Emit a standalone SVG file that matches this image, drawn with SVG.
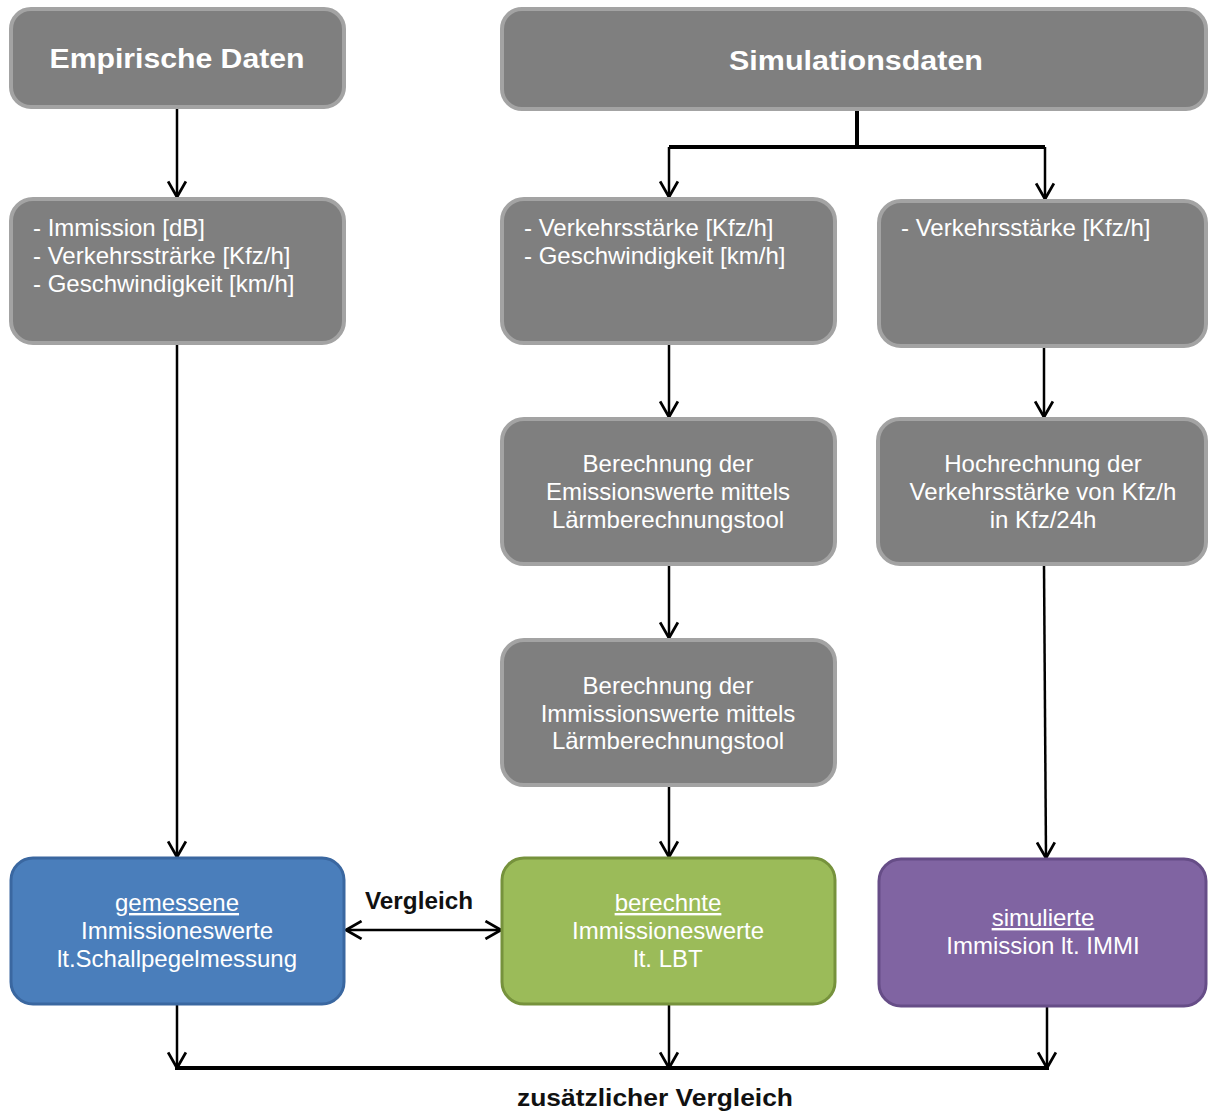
<svg xmlns="http://www.w3.org/2000/svg" width="1209" height="1113" viewBox="0 0 1209 1113">
<defs>
<marker id="arr" markerUnits="userSpaceOnUse" markerWidth="20" markerHeight="20" viewBox="0 0 18 18" refX="16" refY="9" orient="auto-start-reverse">
<path d="M2,1 L16,9 L2,17" fill="none" stroke="#000" stroke-width="2.5"/>
</marker>
<style>
.g{fill:#7f7f7f;stroke:#a3a3a3;stroke-width:4}
.blue{fill:#4a7ebb;stroke:#3a67a0;stroke-width:3}
.green{fill:#9bbb59;stroke:#76923c;stroke-width:3}
.purple{fill:#8064a2;stroke:#664d87;stroke-width:3}
.t{font-family:"Liberation Sans",Arial,sans-serif;font-size:24px;fill:#fff}
.c{text-anchor:middle}
.h{font-family:"Liberation Sans",Arial,sans-serif;font-size:28px;font-weight:bold;fill:#fff;text-anchor:middle}
.b{font-family:"Liberation Sans",Arial,sans-serif;font-size:24px;font-weight:bold;fill:#111}
.u{text-decoration:underline}
.ln{fill:none;stroke:#000;stroke-width:2.5}
.bus{fill:none;stroke:#000;stroke-width:4}
</style>
</defs>
<rect width="1209" height="1113" fill="#fff"/>

<g id="connectors">
<line class="ln" x1="177" y1="108" x2="177" y2="197" marker-end="url(#arr)"/>
<polyline class="bus" points="857,110 857,147"/>
<polyline class="bus" points="669,147 1045,147"/>
<line class="ln" x1="669" y1="147" x2="669" y2="197" marker-end="url(#arr)"/>
<line class="ln" x1="1045" y1="147" x2="1045" y2="199" marker-end="url(#arr)"/>
<line class="ln" x1="177" y1="343" x2="177" y2="857" marker-end="url(#arr)"/>
<line class="ln" x1="669" y1="343" x2="669" y2="417" marker-end="url(#arr)"/>
<line class="ln" x1="669" y1="565" x2="669" y2="638" marker-end="url(#arr)"/>
<line class="ln" x1="669" y1="787" x2="669" y2="857" marker-end="url(#arr)"/>
<line class="ln" x1="1044" y1="347" x2="1044" y2="417" marker-end="url(#arr)"/>
<line class="ln" x1="1044" y1="565" x2="1046" y2="858" marker-end="url(#arr)"/>
<line class="ln" x1="346" y1="930" x2="501" y2="930" marker-start="url(#arr)" marker-end="url(#arr)"/>
<line class="ln" x1="177" y1="1005" x2="177" y2="1068" marker-end="url(#arr)"/>
<line class="ln" x1="669" y1="1005" x2="669" y2="1068" marker-end="url(#arr)"/>
<line class="ln" x1="1047" y1="1007" x2="1047" y2="1068" marker-end="url(#arr)"/>
<polyline class="bus" points="175,1068 1049,1068"/>
<text class="b" x="365" y="909" textLength="108" lengthAdjust="spacingAndGlyphs">Vergleich</text>
<text class="b c" x="655" y="1106" textLength="276" lengthAdjust="spacingAndGlyphs">zusätzlicher Vergleich</text>
</g>

<g id="empirische">
<rect class="g" x="11" y="9" width="333" height="98" rx="20"/>
<text class="h" x="177" y="68" textLength="255" lengthAdjust="spacingAndGlyphs">Empirische Daten</text>
</g>
<g id="simulationsdaten">
<rect class="g" x="502" y="9" width="704" height="100" rx="20"/>
<text class="h" x="856" y="70" textLength="254" lengthAdjust="spacingAndGlyphs">Simulationsdaten</text>
</g>
<g id="empirische-liste">
<rect class="g" x="11" y="199" width="333" height="144" rx="22"/>
<text class="t" x="33" y="236">- Immission [dB]</text>
<text class="t" x="33" y="264">- Verkehrssträrke [Kfz/h]</text>
<text class="t" x="33" y="292">- Geschwindigkeit [km/h]</text>
</g>
<g id="sim-liste1">
<rect class="g" x="502" y="199" width="333" height="144" rx="22"/>
<text class="t" x="524" y="236">- Verkehrsstärke [Kfz/h]</text>
<text class="t" x="524" y="264">- Geschwindigkeit [km/h]</text>
</g>
<g id="sim-liste2">
<rect class="g" x="879" y="201" width="327" height="145" rx="22"/>
<text class="t" x="901" y="236">- Verkehrsstärke [Kfz/h]</text>
</g>
<g id="emission">
<rect class="g" x="502" y="419" width="333" height="145" rx="22"/>
<text class="t c" x="668" y="472">Berechnung der</text>
<text class="t c" x="668" y="500">Emissionswerte mittels</text>
<text class="t c" x="668" y="528">Lärmberechnungstool</text>
</g>
<g id="hochrechnung">
<rect class="g" x="878" y="419" width="328" height="145" rx="22"/>
<text class="t c" x="1043" y="472">Hochrechnung der</text>
<text class="t c" x="1043" y="500">Verkehrsstärke von Kfz/h</text>
<text class="t c" x="1043" y="528">in Kfz/24h</text>
</g>
<g id="immission">
<rect class="g" x="502" y="640" width="333" height="145" rx="22"/>
<text class="t c" x="668" y="694">Berechnung der</text>
<text class="t c" x="668" y="722">Immissionswerte mittels</text>
<text class="t c" x="668" y="749">Lärmberechnungstool</text>
</g>
<g id="gemessene">
<rect class="blue" x="11" y="858" width="333" height="146" rx="22"/>
<text class="t c u" x="177" y="911">gemessene</text>
<text class="t c" x="177" y="939">Immissioneswerte</text>
<text class="t c" x="177" y="967">lt.Schallpegelmessung</text>
</g>
<g id="berechnete">
<rect class="green" x="502" y="858" width="333" height="146" rx="22"/>
<text class="t c u" x="668" y="911">berechnte</text>
<text class="t c" x="668" y="939">Immissioneswerte</text>
<text class="t c" x="668" y="967">lt. LBT</text>
</g>
<g id="simulierte">
<rect class="purple" x="879" y="859" width="327" height="147" rx="22"/>
<text class="t c u" x="1043" y="926">simulierte</text>
<text class="t c" x="1043" y="954">Immission lt. IMMI</text>
</g>
</svg>
